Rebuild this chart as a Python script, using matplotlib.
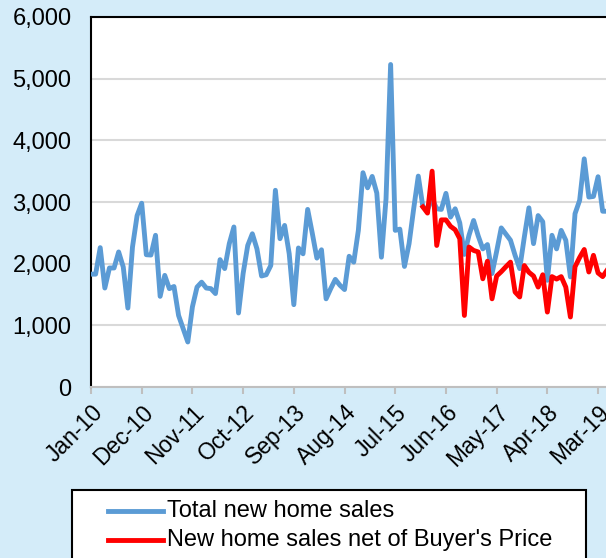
import matplotlib
matplotlib.use("Agg")
import matplotlib.pyplot as plt
from matplotlib.lines import Line2D
from matplotlib.patches import Rectangle
from matplotlib.ticker import FuncFormatter, MultipleLocator

# monthly data, Jan-10 onwards
total_sales = [
    1830, 1830, 2260, 1605, 1930, 1930, 2190, 1945, 1280, 2270, 2780, 2980,
    2145, 2140, 2460, 1470, 1810, 1595, 1630, 1160, 945, 730, 1300, 1620,
    1700, 1605, 1595, 1515, 2065, 1920, 2325, 2595, 1200, 1840, 2295, 2485,
    2240, 1800, 1820, 1970, 3190, 2405, 2620, 2160, 1335, 2255, 2160, 2880,
    2495, 2090, 2225, 1430, 1595, 1745, 1650, 1580, 2120, 2025, 2540, 3475,
    3230, 3415, 3145, 2105, 3050, 5230, 2540, 2560, 1955, 2325, 2890, 3420,
    2920, 2880, 3050, 2890, 2880, 3140, 2755, 2890, 2660, 2150, 2460, 2700,
    2450, 2240, 2310, 1840, 2200, 2580, 2480, 2380, 2135, 1920, 2430, 2905,
    2325, 2780, 2680, 1730, 2460, 2240, 2540, 2380, 1785, 2810, 3025, 3700,
    3080, 3090, 3410, 2850, 2850,
]
net_start = 72  # first month of the red series (Jan-16)
net_sales = [
    2920, 2820, 3500, 2295, 2710, 2710, 2605, 2550, 2405, 1160, 2270, 2215,
    2190, 1755, 2040, 1430, 1800, 1870, 1950, 2025, 1540, 1460, 1970, 1860,
    1800, 1620, 1820, 1215, 1790, 1750, 1790, 1620, 1135, 1950, 2100, 2230,
    1865, 2135, 1850, 1790, 1900,
]
tick_labels = ["Jan-10", "Dec-10", "Nov-11", "Oct-12", "Sep-13", "Aug-14",
               "Jul-15", "Jun-16", "May-17", "Apr-18", "Mar-19"]
series_names = ["Total new home sales", "New home sales net of Buyer's Price"]
series_colors = ["#5b9bd5", "#ff0000"]

plt.rcParams["font.family"] = ["Liberation Sans", "DejaVu Sans"]
bg = "#d4ecf9"
W, H = 606, 558

fig = plt.figure(figsize=(W / 100, H / 100), dpi=100, facecolor=bg)
# axes run past the right edge of the picture, like the cropped original
ax = fig.add_axes([91 / W, 171 / H, 525.5 / W, 370 / H])
ax.set_facecolor("white")

x_total = list(range(len(total_sales)))
x_net = list(range(net_start, net_start + len(net_sales)))
ax.plot(x_total, total_sales, color=series_colors[0], lw=3.5,
        solid_joinstyle="round", zorder=3)
ax.plot(x_net, net_sales, color=series_colors[1], lw=3.5,
        solid_joinstyle="round", zorder=4)

ax.set_xlim(0, 114)
ax.set_ylim(0, 6000)
ax.yaxis.set_major_locator(MultipleLocator(1000))
ax.yaxis.set_major_formatter(FuncFormatter(lambda v, p: "{:,.0f}".format(v)))
ax.grid(axis="y", color="#d9d9d9", lw=1.5, zorder=0)
ax.set_axisbelow(True)

ax.set_xticks(range(0, len(tick_labels) * 11, 11))
ax.set_xticklabels(tick_labels, rotation=45, ha="right", rotation_mode="anchor")

for s in ("left", "top"):
    ax.spines[s].set_color("black")
    ax.spines[s].set_linewidth(1.5)
ax.spines["right"].set_visible(False)
ax.spines["bottom"].set_color("#bfbfbf")
ax.spines["bottom"].set_linewidth(1.5)

ax.tick_params(axis="y", length=0, pad=14, labelsize=17)
ax.tick_params(axis="x", length=5, width=1.5, color="#bfbfbf", labelsize=16.5, pad=5)

# legend box, drawn by hand so the handles sit inset like the original;
# it runs past the bottom edge of the picture
fig.add_artist(Rectangle((72 / W, -0.05), (586 - 72) / W, 1 - 490 / H + 0.05,
                         transform=fig.transFigure, facecolor="white",
                         edgecolor="black", lw=1.5))
for i, (name, col) in enumerate(zip(series_names, series_colors)):
    yy = 1 - (511 + 29 * i) / H
    fig.add_artist(Line2D([108 / W, 163 / W], [yy, yy], transform=fig.transFigure,
                          color=col, lw=3.5))
    fig.text(167 / W, yy, name, fontsize=17, va="center", ha="left")

fig.savefig("out.png", dpi=100, facecolor=bg)
